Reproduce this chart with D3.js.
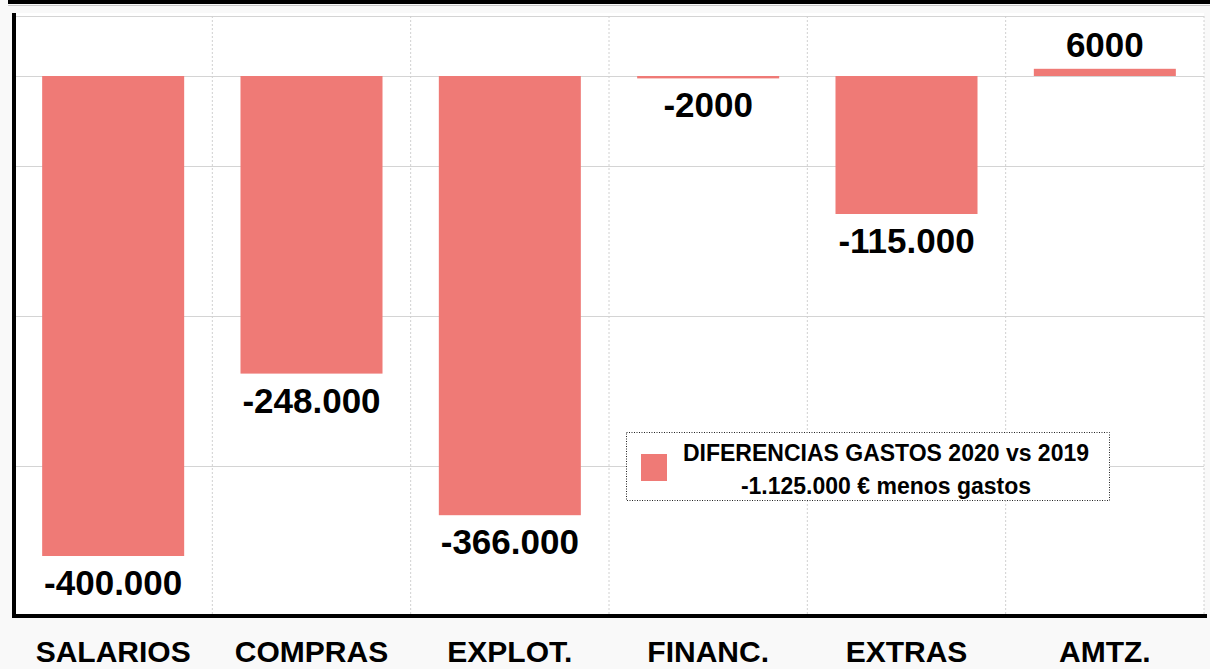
<!DOCTYPE html>
<html>
<head>
<meta charset="utf-8">
<script src="https://cdn.jsdelivr.net/npm/d3@7"></script>
<style>
  html, body { margin: 0; padding: 0; background: #f9f9f9; }
  svg { display: block; font-family: 'Liberation Sans', Arial, Helvetica, sans-serif; }
</style>
</head>
<body>
<div id="chart"></div>
<script>
const categories = ['SALARIOS', 'COMPRAS', 'EXPLOT.', 'FINANC.', 'EXTRAS', 'AMTZ.'];
const values = [-400000, -248000, -366000, -2000, -115000, 6000];
const valueLabels = ['-400.000', '-248.000', '-366.000', '-2000', '-115.000', '6000'];
const gridValues = [50000, 0, -75000, -200000, -325000, -450000];
const legendLines = ['DIFERENCIAS GASTOS 2020 vs 2019', '-1.125.000 € menos gastos'];

const W = 1210, H = 669;
const plotLeft = 14, plotRight = 1204, plotTop = 16, plotBottom = 616;
const barColor = '#ef7a76';

const svg = d3.select('#chart').append('svg')
  .attr('width', W)
  .attr('height', H);

// top black strip
svg.append('rect').attr('x', 8).attr('y', 0).attr('width', W).attr('height', 4).attr('fill', '#000');
svg.append('line').attr('x1', 8).attr('x2', W).attr('y1', 5.5).attr('y2', 5.5)
  .attr('stroke', '#c8c8c8').attr('stroke-width', 1);

// plot background
svg.append('rect')
  .attr('x', plotLeft).attr('y', 13)
  .attr('width', plotRight - plotLeft).attr('height', plotBottom - 13)
  .attr('fill', '#fff');

const x = d3.scaleBand()
  .domain(categories)
  .range([plotLeft, plotRight])
  .paddingInner(0.284)
  .paddingOuter(0.142);

const y = d3.scaleLinear()
  .domain([-450000, 50000])
  .range([plotBottom, plotTop]);

// horizontal gridlines
svg.append('g')
  .attr('transform', 'translate(' + plotLeft + ',0)')
  .call(d3.axisLeft(y).tickValues(gridValues).tickSize(-(plotRight - plotLeft)).tickFormat(''))
  .call(g => g.select('.domain').remove())
  .call(g => g.selectAll('.tick line').attr('stroke', '#d4d4d4').attr('stroke-width', 1.2));

// vertical dotted separators
const step = x.step();
svg.append('g').selectAll('line')
  .data(categories)
  .join('line')
  .attr('x1', d => x(d) - x.paddingOuter() * step + step)
  .attr('x2', d => x(d) - x.paddingOuter() * step + step)
  .attr('y1', plotTop)
  .attr('y2', plotBottom)
  .attr('stroke', '#d0d0d0')
  .attr('stroke-width', 1)
  .attr('stroke-dasharray', '2,2');

// bars
svg.append('g').selectAll('rect')
  .data(values)
  .join('rect')
  .attr('x', (d, i) => x(categories[i]))
  .attr('y', d => y(Math.max(0, d)))
  .attr('width', x.bandwidth())
  .attr('height', d => Math.abs(y(d) - y(0)))
  .attr('fill', barColor);

// value labels
svg.append('g').selectAll('text')
  .data(values)
  .join('text')
  .attr('x', (d, i) => x(categories[i]) + x.bandwidth() / 2)
  .attr('y', d => d < 0 ? y(d) + 39 : y(d) - 12)
  .attr('text-anchor', 'middle')
  .style('font-size', '35px')
  .style('font-weight', 'bold')
  .attr('fill', '#000')
  .text((d, i) => valueLabels[i]);

// left axis
svg.append('line')
  .attr('x1', plotLeft).attr('x2', plotLeft)
  .attr('y1', 13).attr('y2', plotBottom + 2)
  .attr('stroke', '#000').attr('stroke-width', 4);

// bottom axis
svg.append('g')
  .attr('transform', 'translate(0,' + plotBottom + ')')
  .call(d3.axisBottom(x).tickSize(0).tickPadding(0))
  .call(g => g.select('.domain').attr('stroke', '#000').attr('stroke-width', 4)
    .attr('d', 'M' + (plotLeft - 2) + ',0H' + (plotRight + 3)))
  .call(g => g.selectAll('text')
    .attr('y', 46)
    .attr('dy', 0)
    .attr('fill', '#000')
    .style('font-size', '30px')
    .style('font-weight', 'bold')
    .style('font-family', "'Liberation Sans', Arial, sans-serif"));

// legend
const legend = svg.append('g');
legend.append('rect')
  .attr('x', 626.5).attr('y', 432.5)
  .attr('width', 483).attr('height', 68)
  .attr('fill', '#fff')
  .attr('stroke', '#222')
  .attr('stroke-width', 1)
  .attr('stroke-dasharray', '1,1.5');
legend.append('rect')
  .attr('x', 641).attr('y', 454)
  .attr('width', 26).attr('height', 27)
  .attr('fill', barColor);
legend.selectAll('text.leg')
  .data(legendLines)
  .join('text')
  .attr('class', 'leg')
  .attr('x', 886)
  .attr('y', (d, i) => 461 + i * 33)
  .attr('text-anchor', 'middle')
  .style('font-size', '23px')
  .style('font-weight', 'bold')
  .attr('fill', '#000')
  .text(d => d);
</script>
</body>
</html>
